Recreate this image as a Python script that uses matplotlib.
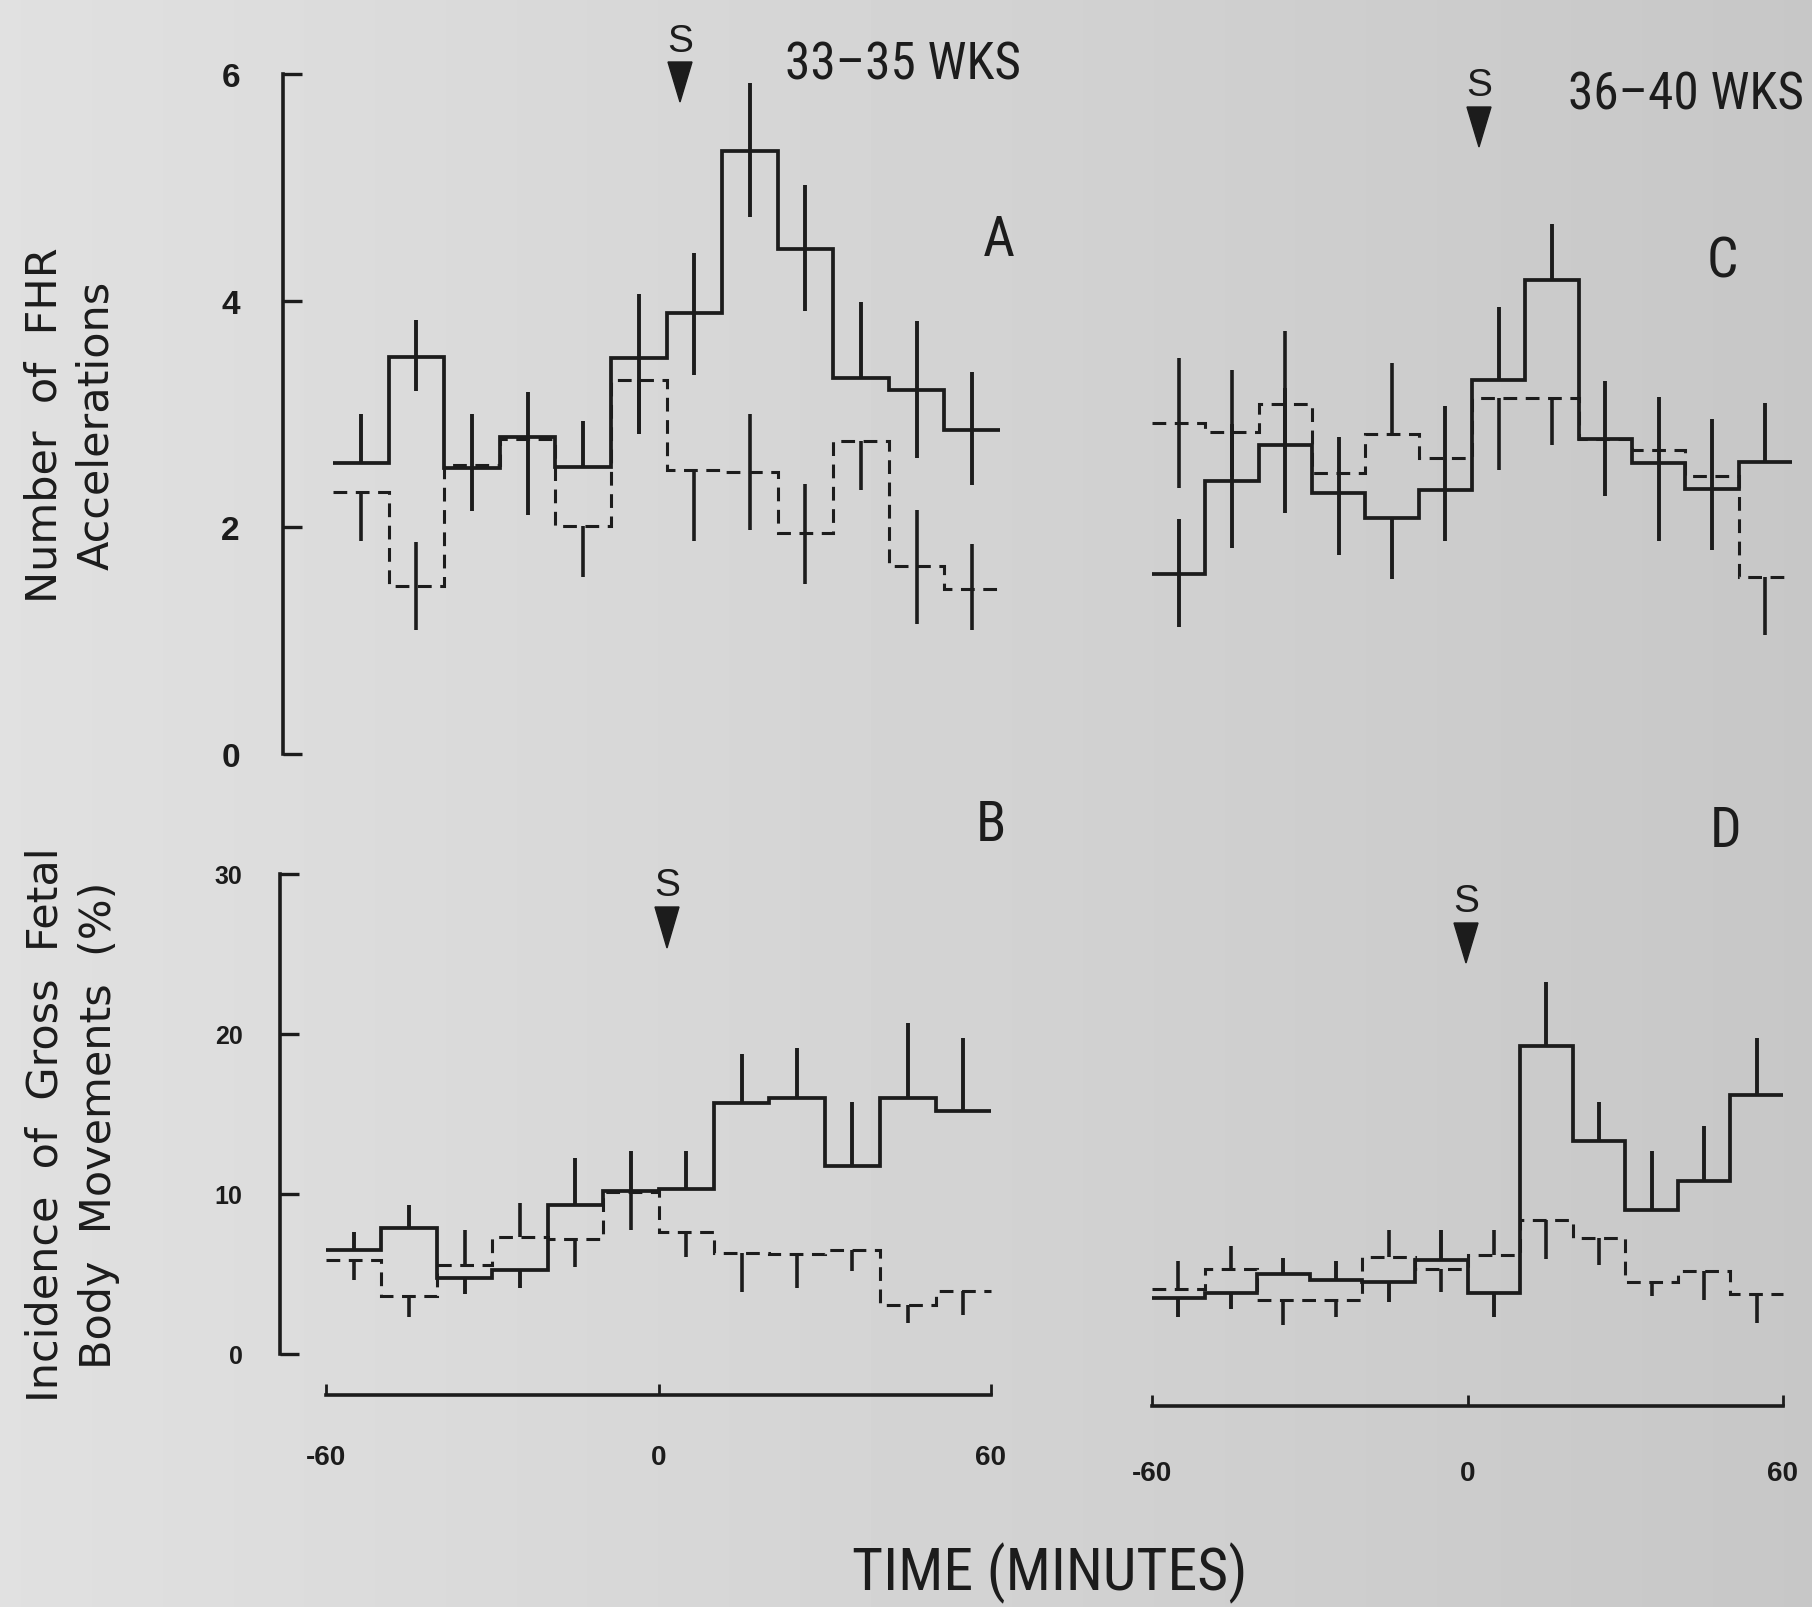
import numpy as np
import matplotlib
matplotlib.use("Agg")
import matplotlib.pyplot as plt
from matplotlib.patches import Polygon
from matplotlib import font_manager as fm

# ---------------- data ----------------
bin_edges = [-60, -50, -40, -30, -20, -10, 0, 10, 20, 30, 40, 50, 60]
bin_centers = [-55, -45, -35, -25, -15, -5, 5, 15, 25, 35, 45, 55]

# Panel A: 33-35 wks, number of FHR accelerations
A_solid = [2.57, 3.50, 2.52, 2.80, 2.53, 3.49, 3.89, 5.32, 4.46, 3.32, 3.21, 2.86]
A_solid_up = [0.43, 0.33, 0.48, 0.39, 0.41, 0.57, 0.53, 0.60, 0.56, 0.67, 0.61, 0.51]
A_solid_dn = [0.00, 0.30, 0.38, 0.69, 0.00, 0.67, 0.55, 0.58, 0.55, 0.00, 0.60, 0.49]
A_dash = [2.31, 1.48, 2.55, 2.78, 2.01, 3.30, 2.51, 2.49, 1.95, 2.76, 1.66, 1.46]
A_dash_up = [0.00, 0.39, 0.00, 0.00, 0.00, 0.00, 0.00, 0.51, 0.43, 0.00, 0.49, 0.39]
A_dash_dn = [0.43, 0.39, 0.00, 0.00, 0.45, 0.48, 0.63, 0.51, 0.45, 0.43, 0.51, 0.37]

# Panel C: 36-40 wks, number of FHR accelerations
C_solid = [1.59, 2.41, 2.73, 2.30, 2.08, 2.33, 3.30, 4.18, 2.78, 2.57, 2.34, 2.58]
C_solid_up = [0.48, 0.50, 0.50, 0.50, 0.00, 0.74, 0.64, 0.50, 0.51, 0.58, 0.62, 0.52]
C_solid_dn = [0.47, 0.59, 0.60, 0.54, 0.54, 0.45, 0.00, 0.00, 0.50, 0.69, 0.54, 0.00]
C_dash = [2.92, 2.84, 3.09, 2.48, 2.82, 2.61, 3.14, 3.14, 2.78, 2.68, 2.45, 1.56]
C_dash_up = [0.57, 0.55, 0.64, 0.00, 0.63, 0.00, 0.00, 0.00, 0.00, 0.00, 0.00, 0.00]
C_dash_dn = [0.57, 0.40, 0.40, 0.00, 0.00, 0.00, 0.63, 0.41, 0.00, 0.00, 0.00, 0.51]

# Panel B: 33-35 wks, incidence of gross fetal body movements (%)
B_solid = [6.52, 7.89, 4.78, 5.22, 9.31, 10.21, 10.34, 15.70, 16.03, 11.77, 16.03, 15.21]
B_solid_up = [1.11, 1.42, 0.00, 0.00, 2.97, 2.46, 2.33, 3.05, 3.10, 4.00, 4.66, 4.57]
B_solid_dn = [0.00, 0.00, 1.03, 1.08, 0.00, 0.00, 0.00, 0.00, 0.00, 0.00, 0.00, 0.00]
B_dash = [5.87, 3.62, 5.56, 7.29, 7.19, 10.10, 7.63, 6.34, 6.26, 6.52, 3.05, 3.93]
B_dash_up = [0.00, 0.00, 2.20, 2.15, 0.00, 0.00, 0.00, 0.00, 0.00, 0.00, 0.00, 0.00]
B_dash_dn = [1.22, 1.29, 0.00, 0.00, 1.76, 2.34, 1.55, 2.46, 2.12, 1.35, 1.11, 1.47]

# Panel D: 36-40 wks, incidence of gross fetal body movements (%)
D_solid = [3.49, 3.83, 4.97, 4.60, 4.53, 5.90, 3.83, 19.27, 13.32, 8.97, 10.81, 16.16]
D_solid_up = [0.00, 0.00, 1.03, 1.22, 0.00, 1.86, 0.00, 4.00, 2.45, 3.70, 3.41, 3.62]
D_solid_dn = [1.16, 0.99, 0.00, 0.00, 1.30, 0.00, 1.50, 0.00, 0.00, 0.00, 0.00, 0.00]
D_dash = [4.06, 5.30, 3.36, 3.36, 6.08, 5.30, 6.20, 8.40, 7.24, 4.53, 5.17, 3.75]
D_dash_up = [1.76, 1.42, 0.00, 0.00, 1.68, 0.00, 1.56, 0.00, 0.00, 0.00, 0.00, 0.00]
D_dash_dn = [0.00, 0.00, 1.55, 1.03, 0.00, 1.42, 0.00, 2.45, 1.68, 0.91, 1.81, 1.81]

y_ticks_top = [0, 2, 4, 6]
y_ticks_bottom = [0, 10, 20, 30]
x_ticks = [-60, 0, 60]
x_ticklabels = ["-60", "0", "60"]

# ---------------- fonts ----------------
SANS = ["Liberation Sans", "DejaVu Sans"]
_names = {f.name for f in fm.fontManager.ttflist}
_cond = [n for n in ["Noto Sans Condensed", "Liberation Sans Narrow", "DejaVu Sans Condensed",
                     "Roboto Condensed", "Open Sans Condensed"] if n in _names]
if _cond:
    NARROW = [_cond[0], "DejaVu Sans"]
    NSCALE = 1.0
else:
    NARROW = SANS
    NSCALE = 0.86

# ---------------- figure ----------------
W, H = 1812, 1608
fig = plt.figure(figsize=(W / 100, H / 100), dpi=100)

# scanned-paper background
bg = fig.add_axes([0, 0, 1, 1], zorder=-10)
grad = np.linspace(0.88, 0.78, 256)[None, :]
bg.imshow(grad, cmap="gray", vmin=0, vmax=1, aspect="auto", extent=[0, 1, 0, 1])
bg.set_axis_off()

INK = "#1c1c1c"


def panel(left, right, xm60, xp60, ytop_val_px, ybot_px, ymax):
    scale = (xp60 - xm60) / 120.0
    xmin = -60 - (xm60 - left) / scale
    xmax = 60 + (right - xp60) / scale
    ax = fig.add_axes([left / W, 1 - ybot_px / H, (right - left) / W, (ybot_px - ytop_val_px) / H])
    ax.set_xlim(xmin, xmax)
    ax.set_ylim(0, ymax)
    ax.patch.set_visible(False)
    for s in ax.spines.values():
        s.set_visible(False)
        s.set_color(INK)
        s.set_linewidth(2.6)
    ax.set_xticks([])
    ax.set_yticks([])
    return ax


def draw(ax, solid, s_up, s_dn, dash, d_up, d_dn):
    solid = np.array(solid); dash = np.array(dash)
    ax.stairs(dash, bin_edges, baseline=None, color=INK, lw=2.2,
              linestyle=(0, (4.5, 2.8)), clip_on=False)
    ax.stairs(solid, bin_edges, baseline=None, color=INK, lw=2.7, clip_on=False)
    ax.vlines(bin_centers, dash - np.array(d_dn), dash + np.array(d_up),
              color=INK, lw=2.6, clip_on=False)
    ax.vlines(bin_centers, solid - np.array(s_dn), solid + np.array(s_up),
              color=INK, lw=2.8, clip_on=False)


axA = panel(283, 1010, 333, 1000, 75, 755, 6)
axB = panel(280, 1005, 326, 991, 875, 1355, 30)
axC = panel(1140, 1812, 1152, 1792, 75, 755, 6)
axD = panel(1140, 1812, 1152, 1783, 875, 1355, 30)

draw(axA, A_solid, A_solid_up, A_solid_dn, A_dash, A_dash_up, A_dash_dn)
draw(axB, B_solid, B_solid_up, B_solid_dn, B_dash, B_dash_up, B_dash_dn)
draw(axC, C_solid, C_solid_up, C_solid_dn, C_dash, C_dash_up, C_dash_dn)
draw(axD, D_solid, D_solid_up, D_solid_dn, D_dash, D_dash_up, D_dash_dn)

# left axes
for ax, ticks, pad, fs in [(axA, y_ticks_top, 31, 24), (axB, y_ticks_bottom, 27, 18)]:
    ax.spines["left"].set_visible(True)
    ax.spines["left"].set_bounds(ticks[0], ticks[-1])
    ax.set_yticks(ticks)
    ax.tick_params(axis="y", direction="in", length=14, width=2.4, color=INK,
                   pad=pad, labelsize=fs, labelcolor=INK)
    for t in ax.get_yticklabels():
        t.set_fontweight("bold")
        t.set_family(SANS)

# bottom time axes
for ax, outward, pad in [(axB, 29.5, 35), (axD, 37.5, 39)]:
    ax.spines["bottom"].set_visible(True)
    ax.spines["bottom"].set_bounds(-60, 60)
    ax.spines["bottom"].set_position(("outward", outward))
    ax.set_xticks(x_ticks, labels=x_ticklabels)
    ax.tick_params(axis="x", direction="in", length=8, width=2.0, color=INK,
                   pad=pad, labelsize=20, labelcolor=INK)
    for t in ax.get_xticklabels():
        t.set_fontweight("bold")
        t.set_family(SANS)


def ftext(xpx, ypx, s, **kw):
    fig.text(xpx / W, 1 - ypx / H, s, color=INK, **kw)


# y labels
ftext(70, 425, "Number  of  FHR\nAccelerations", rotation=90, ha="center", va="center",
      fontsize=31, linespacing=1.3, family=["DejaVu Sans"])
ftext(72, 1125, "Incidence  of  Gross  Fetal\nBody  Movements  (%)", rotation=90, ha="center",
      va="center", fontsize=31, linespacing=1.35, family=["DejaVu Sans"])

# panel letters
for (xp, yp, s) in [(999, 240, "A"), (1722, 262, "C"), (991, 826, "B"), (1726, 832, "D")]:
    ftext(xp, yp, s, ha="center", va="center", fontsize=40 * NSCALE, family=NARROW)

# gestational age labels
ftext(785, 66, "33\u201335 WKS", ha="left", va="center", fontsize=38 * NSCALE * 0.97, family=NARROW)
ftext(1568, 95, "36\u201340 WKS", ha="left", va="center", fontsize=38 * NSCALE * 0.97, family=NARROW)

# stimulus markers
for (xc, ys, ya0, ya1) in [(680, 42, 63, 103), (1479, 86, 108, 148),
                           (667, 886, 908, 949), (1466, 902, 924, 964)]:
    ftext(xc, ys, "S", ha="center", va="center", fontsize=28, family=SANS)
    tri = Polygon([[(xc - 12) / W, 1 - ya0 / H], [(xc + 12) / W, 1 - ya0 / H],
                   [xc / W, 1 - ya1 / H]], closed=True, transform=fig.transFigure,
                  facecolor=INK, edgecolor=INK, lw=1)
    fig.patches.append(tri)

# x axis title
ftext(1050, 1573, "TIME (MINUTES)", ha="center", va="center", fontsize=43 * NSCALE, family=NARROW)

fig.savefig("out.png", dpi=100)
